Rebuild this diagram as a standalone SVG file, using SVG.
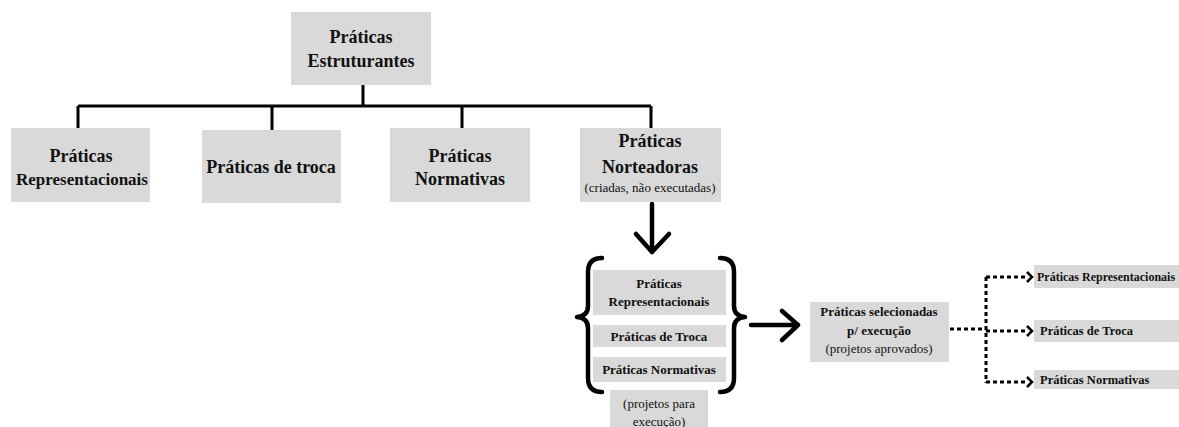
<svg xmlns="http://www.w3.org/2000/svg" width="1179" height="427" viewBox="0 0 1179 427">
  <style>
    .box { fill: #d9d9d9; }
    .t { font-family: "Liberation Serif", "Times New Roman", serif; fill: #111; text-anchor: middle; }
    .b { font-weight: bold; }
    .tl { text-anchor: start; }
    .solid { fill: none; stroke: #000; stroke-width: 3; }
    .heavy { fill: none; stroke: #000; stroke-width: 4.5; stroke-linecap: round; stroke-linejoin: round; }
    .dot { fill: none; stroke: #000; stroke-width: 3; stroke-dasharray: 4 3; }
    .chev { fill: none; stroke: #000; stroke-width: 2.5; stroke-linejoin: miter; }
  </style>

  <rect width="1179" height="427" fill="#fff"/>

  <!-- tree connectors and arrows -->
  <g id="connectors">
    <path class="solid" d="M363 85 V106 M78 106 H651 M78 106 V128 M272 106 V130 M462 106 V128 M651 106 V128"/>
    <path class="heavy" d="M652 204 V252 M636 234 L652 252 L669 234"/>
    <path class="heavy" d="M751 325 H797 M782 311 L798 325 L782 340"/>
    <path class="dot" d="M950 329 H986 M986 277 V383 M986 277 H1027 M986 331 H1027 M986 382 H1027"/>
    <path class="chev" d="M1027 272 L1032 277 L1027 282 M1027 326 L1032 331 L1027 336 M1027 377 L1032 382 L1027 387"/>
    <!-- braces around the selected practices -->
    <path class="heavy" d="M602 258 Q588 258 588 272 V306 Q588 316 577 317 Q588 318 588 328 V378 Q588 392 602 392"/>
    <path class="heavy" d="M720 258 Q734 258 734 272 V306 Q734 316 745 317 Q734 318 734 328 V378 Q734 392 720 392"/>
  </g>

  <g id="n-estruturantes">
    <rect class="box" x="291" y="12" width="140" height="73"/>
    <text class="t b" x="361" y="43" font-size="18">Práticas</text>
    <text class="t b" x="361" y="67" font-size="18">Estruturantes</text>
  </g>

  <g id="n-representacionais">
    <rect class="box" x="11" y="128" width="139" height="74"/>
    <text class="t b" x="81" y="162" font-size="18">Práticas</text>
    <text class="t b" x="82" y="185" font-size="17">Representacionais</text>
  </g>

  <g id="n-troca">
    <rect class="box" x="202" y="130" width="139" height="73"/>
    <text class="t b" x="271" y="173" font-size="18">Práticas de troca</text>
  </g>

  <g id="n-normativas">
    <rect class="box" x="390" y="128" width="140" height="74"/>
    <text class="t b" x="460" y="162" font-size="18">Práticas</text>
    <text class="t b" x="460" y="185" font-size="18">Normativas</text>
  </g>

  <g id="n-norteadoras">
    <rect class="box" x="580" y="128" width="141" height="74"/>
    <text class="t b" x="650" y="147" font-size="18">Práticas</text>
    <text class="t b" x="650" y="173" font-size="18">Norteadoras</text>
    <text class="t" x="650" y="192" font-size="13">(criadas, não executadas)</text>
  </g>

  <g id="n-sel-representacionais">
    <rect class="box" x="593" y="270" width="133" height="45"/>
    <text class="t b" x="659" y="288" font-size="13">Práticas</text>
    <text class="t b" x="659" y="306" font-size="13">Representacionais</text>
  </g>

  <g id="n-sel-troca">
    <rect class="box" x="593" y="325" width="133" height="22"/>
    <text class="t b" x="659" y="341" font-size="13">Práticas de Troca</text>
  </g>

  <g id="n-sel-normativas">
    <rect class="box" x="593" y="357" width="133" height="25"/>
    <text class="t b" x="659" y="374" font-size="13">Práticas Normativas</text>
  </g>

  <g id="n-projetos">
    <rect class="box" x="610" y="390" width="98" height="40"/>
    <text class="t" x="659" y="408" font-size="13">(projetos para</text>
    <text class="t" x="659" y="426" font-size="13">execução)</text>
  </g>

  <g id="n-selecionadas">
    <rect class="box" x="810" y="302" width="139" height="60"/>
    <text class="t b" x="879" y="316" font-size="13">Práticas selecionadas</text>
    <text class="t b" x="879" y="335" font-size="13">p/ execução</text>
    <text class="t" x="879" y="353" font-size="13">(projetos aprovados)</text>
  </g>

  <g id="n-out-representacionais">
    <rect class="box" x="1034" y="265" width="145" height="23"/>
    <text class="t b tl" x="1037" y="281" font-size="12">Práticas Representacionais</text>
  </g>

  <g id="n-out-troca">
    <rect class="box" x="1034" y="320" width="145" height="22"/>
    <text class="t b tl" x="1040" y="335" font-size="12.5">Práticas de Troca</text>
  </g>

  <g id="n-out-normativas">
    <rect class="box" x="1034" y="370" width="145" height="19"/>
    <text class="t b tl" x="1040" y="384" font-size="12.5">Práticas Normativas</text>
  </g>
</svg>
